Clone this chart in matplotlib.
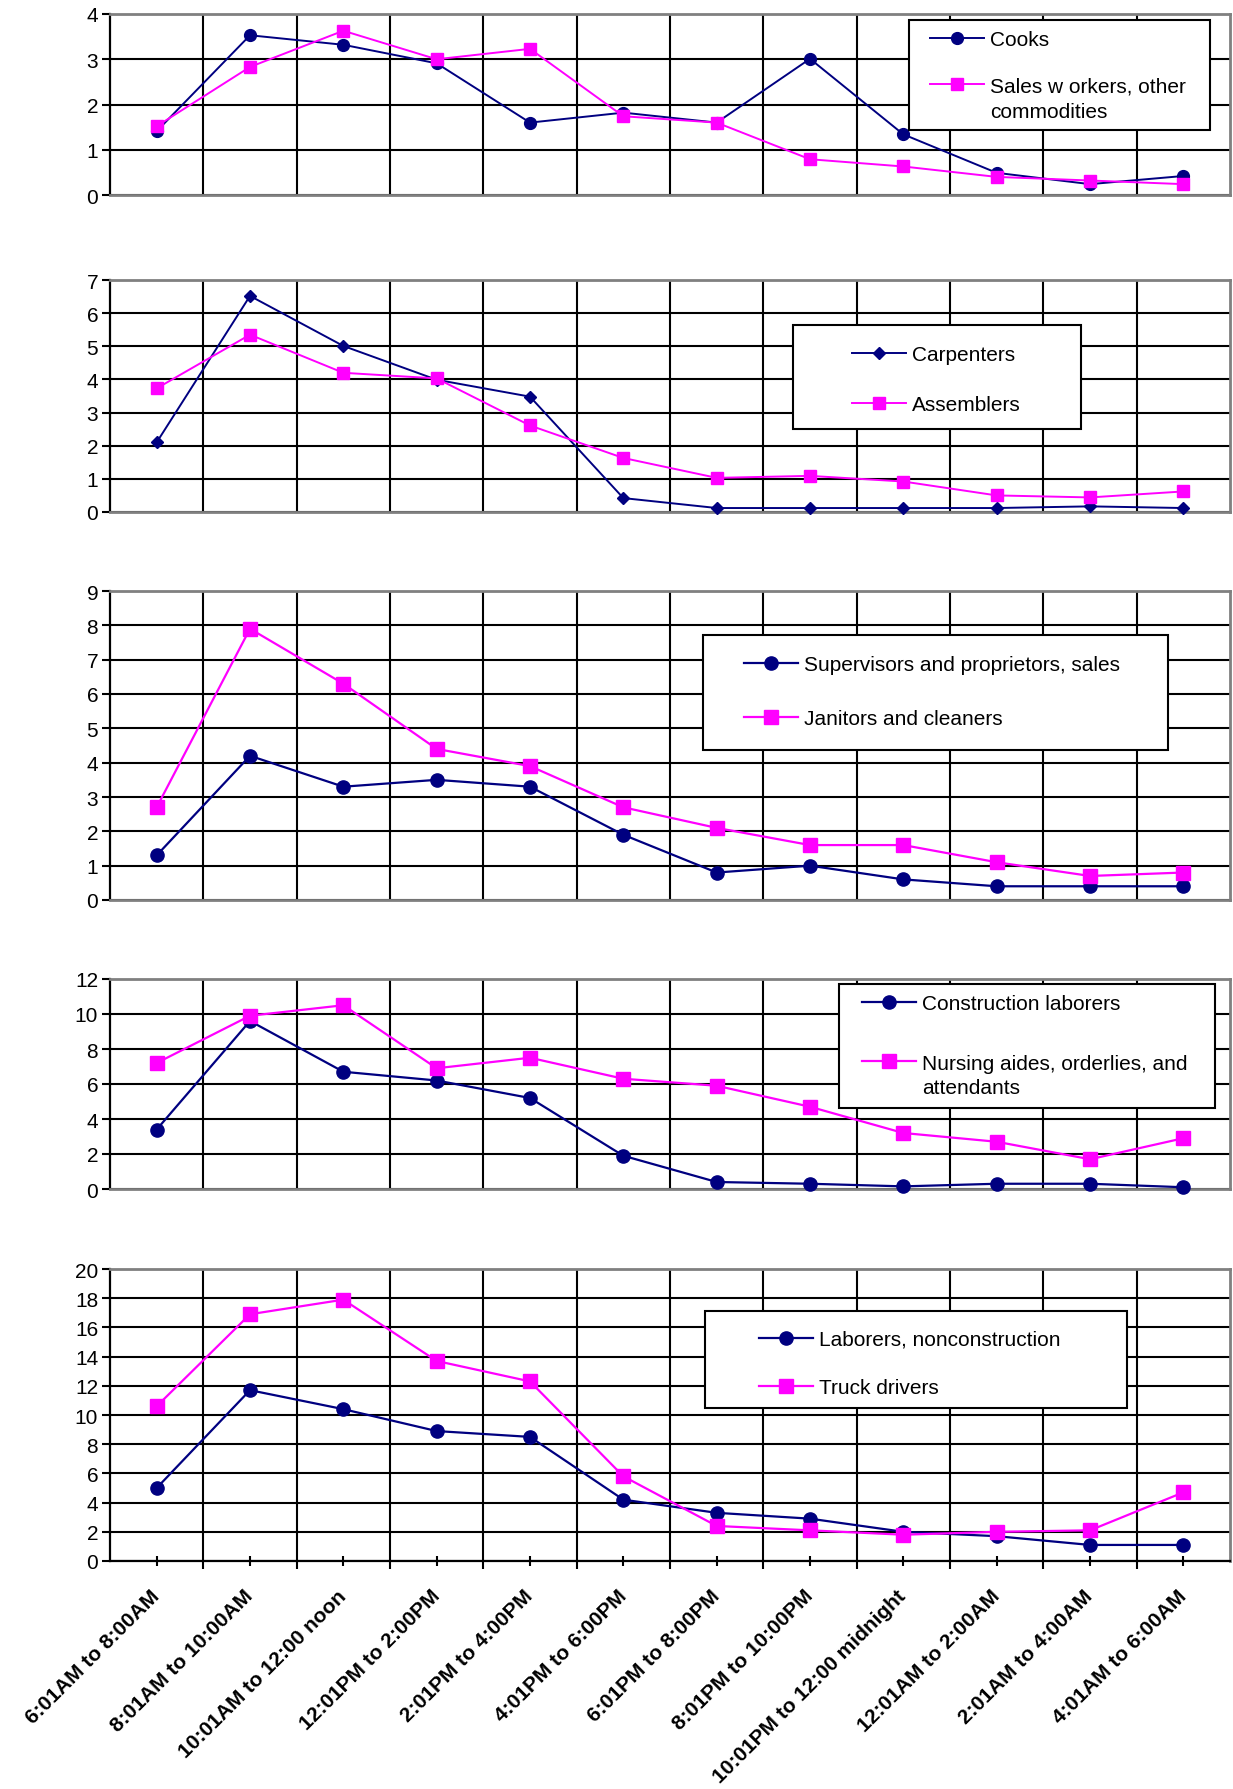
import numpy as np
import matplotlib
matplotlib.use("Agg")
import matplotlib.pyplot as plt
from matplotlib.lines import Line2D
from matplotlib.patches import Rectangle

plt.rcParams['font.family'] = ['Liberation Sans', 'DejaVu Sans']

# data
time_slots = ["6:01AM to 8:00AM", "8:01AM to 10:00AM", "10:01AM to 12:00 noon",
              "12:01PM to 2:00PM", "2:01PM to 4:00PM", "4:01PM to 6:00PM",
              "6:01PM to 8:00PM", "8:01PM to 10:00PM", "10:01PM to 12:00 midnight",
              "12:01AM to 2:00AM", "2:01AM to 4:00AM", "4:01AM to 6:00AM"]

cooks = [1.41, 3.53, 3.32, 2.91, 1.60, 1.82, 1.60, 3.01, 1.34, 0.49, 0.24, 0.42]
sales_other = [1.52, 2.83, 3.63, 3.00, 3.23, 1.74, 1.60, 0.79, 0.63, 0.40, 0.32, 0.24]

carpenters = [2.10, 6.52, 5.01, 3.99, 3.48, 0.42, 0.12, 0.12, 0.12, 0.12, 0.17, 0.12]
assemblers = [3.73, 5.35, 4.20, 4.03, 2.61, 1.63, 1.03, 1.09, 0.92, 0.50, 0.44, 0.62]

supervisors = [1.3, 4.2, 3.3, 3.5, 3.3, 1.9, 0.8, 1.0, 0.6, 0.4, 0.4, 0.4]
janitors = [2.7, 7.9, 6.3, 4.4, 3.9, 2.7, 2.1, 1.6, 1.6, 1.1, 0.7, 0.8]

construction = [3.4, 9.6, 6.7, 6.2, 5.2, 1.9, 0.4, 0.3, 0.15, 0.3, 0.3, 0.1]
nursing = [7.2, 9.9, 10.5, 6.9, 7.5, 6.3, 5.9, 4.7, 3.2, 2.7, 1.7, 2.9]

laborers = [5.0, 11.7, 10.4, 8.9, 8.5, 4.2, 3.3, 2.9, 2.0, 1.7, 1.1, 1.1]
truck_drivers = [10.6, 16.9, 17.9, 13.7, 12.3, 5.8, 2.4, 2.1, 1.8, 2.0, 2.1, 4.7]

NAVY = '#000080'
PINK = '#FF00FF'
GRAY = '#808080'
W, H = 1233, 1790
FS = 15
HLEN, HPAD = 2.6, 0.3

fig = plt.figure(figsize=(W / 100, H / 100), dpi=100)

# (top, bottom) in px, ymax, step, series, line width, legend box, legend entries
# legend labels are lists of lines: the handle sits on the first line (like Excel)
panels = [
    dict(tb=(15, 196), ymax=4, step=1, lw=1.4,
         series=[(cooks, ['Cooks'], NAVY, 'o', 8.5),
                 (sales_other, ['Sales w orkers, other', 'commodities'], PINK, 's', 8)],
         box=(909, 21, 1210, 131), entries=[(930, 41), (930, 87)]),
    dict(tb=(281, 513), ymax=7, step=1, lw=1.4,
         series=[(carpenters, ['Carpenters'], NAVY, 'D', 6.5),
                 (assemblers, ['Assemblers'], PINK, 's', 8)],
         box=(793, 326, 1081, 430), entries=[(852, 355.5), (852, 405.5)]),
    dict(tb=(592, 901), ymax=9, step=1, lw=1.6,
         series=[(supervisors, ['Supervisors and proprietors, sales'], NAVY, 'o', 9.5),
                 (janitors, ['Janitors and cleaners'], PINK, 's', 9.5)],
         box=(703, 636, 1168, 751), entries=[(744, 665.5), (744, 719.5)]),
    dict(tb=(980, 1190), ymax=12, step=2, lw=1.6,
         series=[(construction, ['Construction laborers'], NAVY, 'o', 9.5),
                 (nursing, ['Nursing aides, orderlies, and', 'attendants'], PINK, 's', 9.5)],
         box=(839, 985, 1215, 1109), entries=[(862, 1004.5), (862, 1064)]),
    dict(tb=(1270, 1562), ymax=20, step=2, lw=1.6,
         series=[(laborers, ['Laborers, nonconstruction'], NAVY, 'o', 9.5),
                 (truck_drivers, ['Truck drivers'], PINK, 's', 10.5)],
         box=(705, 1312, 1127, 1409), entries=[(759, 1340.5), (759, 1388.5)]),
]

LEFT, RIGHT = 110, 1230
x = np.arange(len(time_slots))
fs_px = FS * 100 / 72

for i, p in enumerate(panels):
    top, bottom = p['tb']
    ax = fig.add_axes([LEFT / W, 1 - bottom / H, (RIGHT - LEFT) / W, (bottom - top) / H])
    last = i == len(panels) - 1

    for vals, label, color, marker, ms in p['series']:
        ax.plot(x, vals, color=color, lw=p['lw'], marker=marker, ms=ms,
                mfc=color, mec=color, clip_on=False, zorder=3)

    ax.set_xlim(-0.5, len(time_slots) - 0.5)
    ax.set_ylim(0, p['ymax'])
    ax.set_yticks(np.arange(0, p['ymax'] + p['step'], p['step']))
    ax.set_xticks(x)
    ax.set_xticks(x[:-1] + 0.5, minor=True)
    ax.grid(axis='y', which='major', color='black', lw=1.5)
    ax.grid(axis='x', which='minor', color='black', lw=1.5)
    ax.set_axisbelow(True)

    for side in ['top', 'right']:
        ax.spines[side].set_color(GRAY)
        ax.spines[side].set_linewidth(2)
    ax.spines['left'].set_color('black')
    ax.spines['left'].set_linewidth(1.6)
    ax.spines['bottom'].set_color('black' if last else GRAY)
    ax.spines['bottom'].set_linewidth(1.6 if last else 2)

    ax.tick_params(axis='y', direction='out', length=5.5, width=1.5,
                   labelsize=FS, pad=3)
    if last:
        ax.tick_params(axis='x', which='major', direction='inout', length=7.5,
                       width=1.5, pad=19)
        ax.tick_params(axis='x', which='minor', direction='out', length=5.5,
                       width=1.5)
        ax.set_xticklabels(time_slots, fontsize=FS, fontweight='bold')
        plt.setp(ax.get_xticklabels(), rotation=45, ha='right', va='center',
                 rotation_mode='anchor')
    else:
        ax.tick_params(axis='x', which='both', bottom=False, labelbottom=False)

    # legend box and entries
    bx0, by0, bx1, by1 = p['box']
    fig.patches.append(Rectangle((bx0 / W, 1 - by1 / H), (bx1 - bx0) / W, (by1 - by0) / H,
                                 transform=fig.transFigure, facecolor='white',
                                 edgecolor='black', lw=1.5, zorder=1))
    for (vals, lines, color, marker, ms), (ex, ey) in zip(p['series'], p['entries']):
        h = Line2D([], [], color=color, lw=p['lw'], marker=marker, ms=ms,
                   mfc=color, mec=color)
        fig.legend(handles=[h], labels=[lines[0]], loc='center left',
                   bbox_to_anchor=(ex / W, 1 - ey / H), frameon=False,
                   fontsize=FS, borderpad=0, borderaxespad=0,
                   handlelength=HLEN, handletextpad=HPAD, numpoints=1)
        tx = ex + (HLEN + HPAD) * fs_px
        for k, extra in enumerate(lines[1:], start=1):
            fig.text(tx / W, 1 - (ey - 2.5 + k * 27.5) / H, extra, fontsize=FS,
                     ha='left', va='center', zorder=6)

fig.savefig('out.png', dpi=100)
